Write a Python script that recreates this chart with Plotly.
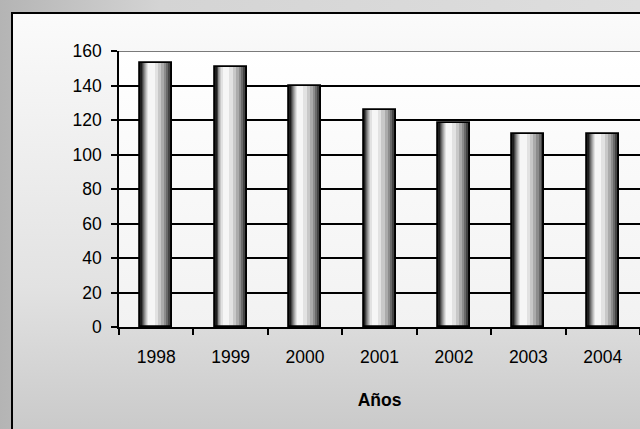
import base64
import plotly.graph_objects as go

# ---- data ----
years = ["1998", "1999", "2000", "2001", "2002", "2003", "2004"]
values = [153, 151, 140, 126, 118, 112, 112]
y_ticks = [0, 20, 40, 60, 80, 100, 120, 140, 160]
y_max = 160
x_title = "Años"

# ---- layout constants ----
W, H = 640, 429
ML, MR, MT, MB = 119, 0, 51, 102
PW, PH = W - ML - MR, H - MT - MB

def px_to_paper_x(px):
    return (px - ML) / PW

def px_to_paper_y(py):
    return (H - MB - py) / PH

def svg_grad(stops, vertical=True):
    x2, y2 = ("0", "1") if vertical else ("1", "0")
    st = "".join(f"<stop offset='{o}' stop-color='{c}'/>" for o, c in stops)
    svg = (f"<svg xmlns='http://www.w3.org/2000/svg' width='100' height='100' viewBox='0 0 100 100' "
           f"preserveAspectRatio='none'><defs><linearGradient id='g' x1='0' y1='0' x2='{x2}' y2='{y2}'>"
           f"{st}</linearGradient></defs><rect width='100' height='100' fill='url(#g)'/></svg>")
    return "data:image/svg+xml;base64," + base64.b64encode(svg.encode()).decode()

bar_w = 0.43
# cylinder shading layers: (start fraction, end fraction, colour)
layers = [
    (0.00, 1.00, "#1e1e1e"),
    (0.06, 0.94, "#444444"),
    (0.09, 0.88, "#6a6a6a"),
    (0.12, 0.82, "#8c8c8c"),
    (0.15, 0.75, "#ababab"),
    (0.18, 0.66, "#c8c8c8"),
    (0.21, 0.56, "#e2e2e2"),
    (0.25, 0.45, "#f6f6f6"),
]

fig = go.Figure()
for s, e, c in layers:
    fig.add_trace(go.Bar(
        x=years, y=values,
        width=bar_w * (e - s), offset=-bar_w / 2 + bar_w * s,
        marker=dict(color=c, line=dict(width=0)),
        showlegend=False, hoverinfo="skip",
    ))
fig.add_trace(go.Bar(
    x=years, y=values, width=bar_w, offset=-bar_w / 2,
    marker=dict(color="rgba(0,0,0,0)", line=dict(color="black", width=1.8)),
    showlegend=False,
))

font = "Liberation Sans, Arial, sans-serif"

images = [
    # outer background
    dict(source=svg_grad([(0, "#b4b4b4"), (0.25, "#d4d4d4"), (1, "#dedede")], vertical=False),
         xref="paper", yref="paper", x=px_to_paper_x(0), y=px_to_paper_y(0),
         sizex=px_to_paper_x(W) - px_to_paper_x(0), sizey=px_to_paper_y(0) - px_to_paper_y(H),
         xanchor="left", yanchor="top", sizing="stretch", layer="below"),
    # chart box
    dict(source=svg_grad([(0, "#fbfbfb"), (0.65, "#e2e2e2"), (1, "#c9c9c9")]),
         xref="paper", yref="paper", x=px_to_paper_x(12), y=px_to_paper_y(13),
         sizex=px_to_paper_x(W + 10) - px_to_paper_x(12), sizey=px_to_paper_y(13) - px_to_paper_y(H + 5),
         xanchor="left", yanchor="top", sizing="stretch", layer="below"),
    # plot area
    dict(source=svg_grad([(0, "#ffffff"), (1, "#f2f2f2")]),
         xref="paper", yref="paper", x=0, y=1, sizex=1, sizey=1,
         xanchor="left", yanchor="top", sizing="stretch", layer="below"),
]

shapes = [
    dict(type="rect", xref="paper", yref="paper",
         x0=px_to_paper_x(12), x1=px_to_paper_x(W + 10),
         y0=px_to_paper_y(H + 10), y1=px_to_paper_y(13),
         line=dict(color="black", width=2), fillcolor="rgba(0,0,0,0)", layer="above"),
    # top edge of the plot area (gridline at the axis maximum)
    dict(type="line", xref="paper", yref="y", x0=0, x1=1, y0=y_max, y1=y_max,
         line=dict(color="#7a7a7a", width=2), layer="below"),
]

fig.update_layout(
    width=W, height=H,
    margin=dict(l=ML, r=MR, t=MT, b=MB, pad=0),
    paper_bgcolor="#cfcfcf",
    plot_bgcolor="rgba(0,0,0,0)",
    barmode="overlay",
    bargap=0,
    font=dict(family=font, size=17, color="black"),
    images=images,
    shapes=shapes,
    xaxis=dict(
        type="category", range=[-0.5, len(years) - 0.5],
        showline=True, linecolor="black", linewidth=1.5,
        ticks="outside", tickson="boundaries", ticklen=6, tickwidth=1.5, tickcolor="black",
        showgrid=False, zeroline=False,
        tickfont=dict(family=font, size=17.5, color="black"),
        ticklabelstandoff=13,
        title=dict(text=f"<b>{x_title}</b>", font=dict(family=font, size=17.5, color="black"), standoff=28),
        automargin=False, fixedrange=True,
    ),
    yaxis=dict(
        range=[0, y_max], tickvals=y_ticks,
        showline=True, linecolor="black", linewidth=1.5,
        ticks="outside", ticklen=6, tickwidth=1.5, tickcolor="black",
        showgrid=True, gridcolor="black", gridwidth=1.5,
        zeroline=False,
        tickfont=dict(family=font, size=17.5, color="black"),
        ticklabelstandoff=6,
        automargin=False, fixedrange=True,
    ),
)

fig.write_html("out.html", config={"displayModeBar": False},
               post_script="document.body.style.margin='0';document.body.style.overflow='hidden';")
